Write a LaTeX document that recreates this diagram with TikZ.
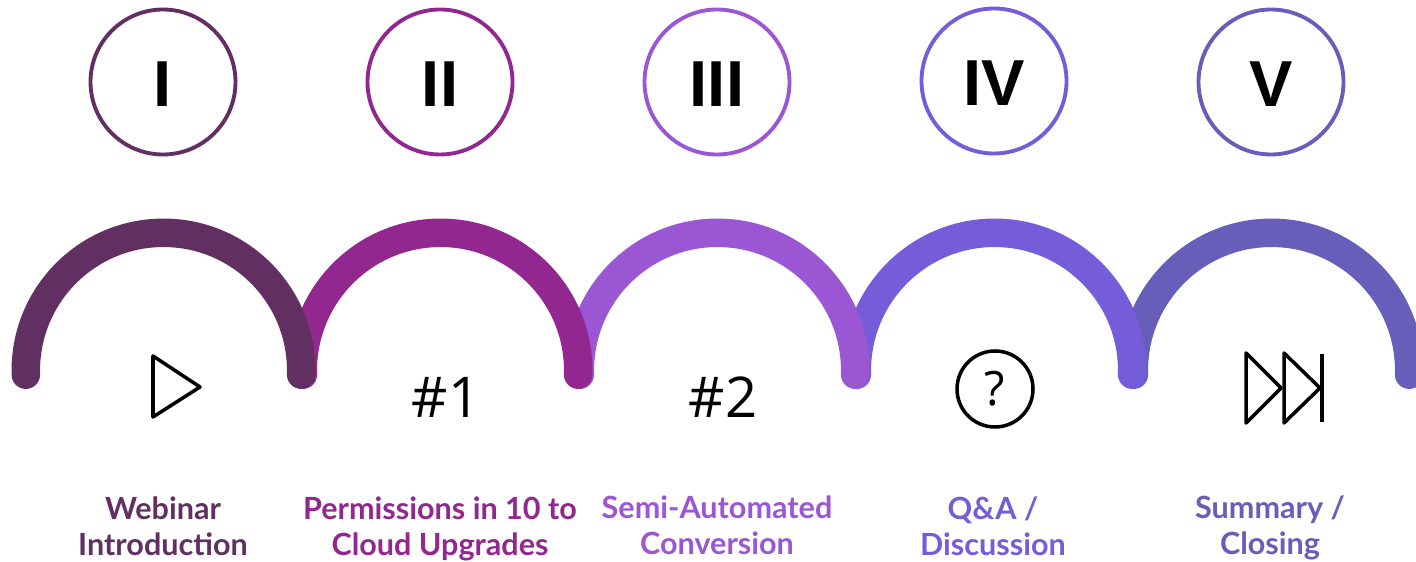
\documentclass[tikz,border=0pt]{standalone}
\usepackage{fontspec}
\setmainfont{Lato}
\newfontfamily\numfont{Liberation Sans}
\newfontfamily\iconfont{Open Sans}
\definecolor{cOne}{HTML}{622F63}
\definecolor{cTwo}{HTML}{92278F}
\definecolor{cThree}{HTML}{9B57D3}
\definecolor{cFour}{HTML}{755DD9}
\definecolor{cFive}{HTML}{665EB8}
\tikzset{
  numcirc/.style={draw=#1,circle,line width=2.2pt,minimum size=145*0.02cm,inner sep=0,text height=27.6pt,text depth=0pt,font=\numfont\fontsize{37}{41}\selectfont\bfseries},
  hump/.style={draw=#1,line width=28.5*0.02cm,line cap=round},
  caption/.style={text=#1,align=center,inner sep=0,anchor=base,font=\fontsize{17.4}{20.4}\selectfont\bfseries},
  glyph/.style={inner sep=0,anchor=base,font=\iconfont\fontsize{32}{35}\selectfont},
  iconline/.style={draw=black,line width=2pt,line join=round}
}
\begin{document}
\begin{tikzpicture}[x=0.02cm,y=0.02cm]
%\draw[help lines] (0,0) grid (1416,561);
\useasboundingbox (0,0) rectangle (1416,561);
\clip (0,0) rectangle (1416,561);

\node (num_1) [numcirc=cOne] at (163,479) {I};
\node (num_2) [numcirc=cTwo] at (440,479) {II};
\node (num_3) [numcirc=cThree] at (717,479) {III};
\node (num_4) [numcirc=cFour] at (994,480) {IV};
\node (num_5) [numcirc=cFive] at (1271,479) {V};

% later humps first, the earlier one lies on top
\draw [hump=cFive] (1133.8,186.3) -- ++(0,4.2) arc (180:0:137.7) -- ++(0,-4.2);
\draw [hump=cFour] (856.8,186.3) -- ++(0,4.2) arc (180:0:137.7) -- ++(0,-4.2);
\draw [hump=cThree] (579.8,186.3) -- ++(0,4.2) arc (180:0:137.7) -- ++(0,-4.2);
\draw [hump=cTwo] (302.8,186.3) -- ++(0,4.2) arc (180:0:137.7) -- ++(0,-4.2);
\draw [hump=cOne] (25.8,186.3) -- ++(0,4.2) arc (180:0:137.7) -- ++(0,-4.2);

\coordinate (play_a) at (153,205);
\coordinate (play_b) at (153,144);
\coordinate (play_c) at (200,174);
\draw [iconline] (play_a) -- (play_b) -- (play_c) -- cycle;

\node (hash_1) [glyph] at (446,143.5) {\#1};
\node (hash_2) [glyph] at (723,143.5) {\#2};

\node (ask) [draw,circle,line width=2pt,minimum size=76*0.02cm,inner sep=0,font=\iconfont\fontsize{27}{30}\selectfont] at (995,172) {?};

\coordinate (fwd_a) at (1246,208);
\coordinate (fwd_b) at (1246,138);
\coordinate (fwd_c) at (1281,173);
\coordinate (fwd_d) at (1284,208);
\coordinate (fwd_e) at (1284,138);
\coordinate (fwd_f) at (1320,173);
\coordinate (fwd_g) at (1322,207);
\coordinate (fwd_h) at (1322,139);
\draw [iconline] (fwd_a) -- (fwd_b) -- (fwd_c) -- cycle;
\draw [iconline] (fwd_d) -- (fwd_e) -- (fwd_f) -- cycle;
\draw [iconline] (fwd_g) -- (fwd_h);

\node (cap_1) [caption=cOne] at (163,6) {Webinar\\Introduction};
\node (cap_2) [caption=cTwo] at (440,6) {Permissions in 10 to\\Cloud Upgrades};
\node (cap_3) [caption=cThree] at (717,7) {Semi-Automated\\Conversion};
\node (cap_4) [caption=cFour] at (993,6) {Q\&A /\\Discussion};
\node (cap_5) [caption=cFive] at (1270,7) {Summary /\\Closing};
\end{tikzpicture}
\end{document}
